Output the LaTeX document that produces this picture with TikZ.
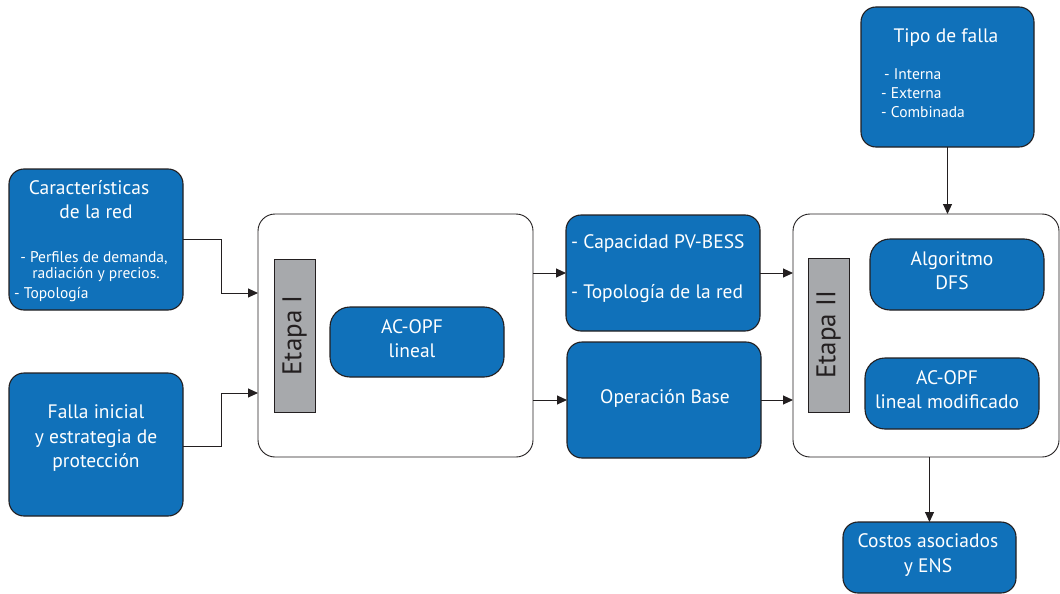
\documentclass[tikz,border=0pt]{standalone}
\usepackage{fontspec}
\setmainfont{PT Sans}
\usetikzlibrary{arrows.meta,calc}
\definecolor{boxblue}{HTML}{1071BA}
\definecolor{edge}{HTML}{231F20}
\definecolor{bargray}{HTML}{A7A9AC}
\tikzset{
  blk/.style={draw=edge, fill=boxblue, line width=1.1pt, rounded corners=15pt,
              inner sep=0pt, outer sep=0pt},
  stage/.style={draw=edge, fill=white, line width=0.9pt, rounded corners=17pt,
              inner sep=0pt, outer sep=0pt},
  bar/.style={draw=edge, fill=bargray, line width=0.9pt, inner sep=0pt, outer sep=0pt},
  big/.style={text=white, font=\fontsize{19.5}{23}\selectfont, anchor=mid, inner sep=0pt, yshift=-3pt},
  small/.style={text=white, font=\fontsize{15.5}{18}\selectfont, anchor=mid, inner sep=0pt, yshift=-3pt},
  lbl/.style={text=edge, font=\fontsize{27}{32}\selectfont, rotate=90, inner sep=0pt},
  arr/.style={draw=edge, line width=1pt, -{Triangle[length=10pt,width=9pt]}},
  ln/.style={draw=edge, line width=1pt},
}
\begin{document}
\begin{tikzpicture}[x=1pt,y=-1pt]
\useasboundingbox (0,0) rectangle (1060,594);
\begin{scope}
\clip (0,0) rectangle (1060,594);

% stage containers
\node[stage, minimum width=275pt, minimum height=243pt] (e1) at (395.5,335.5) {};
\node[stage, minimum width=266pt, minimum height=243pt] (e2) at (926,335.5) {};

% stage labels
\node[bar, minimum width=41pt, minimum height=153pt] (b1) at (294.5,335.5) {};
\node[lbl] (b1t) at (b1.center) {Etapa I};
\node[bar, minimum width=41pt, minimum height=154pt] (b2) at (828.5,335) {};
\node[lbl] (b2t) at (b2.center) {Etapa II};

% input blocks
\node[blk, minimum width=174pt, minimum height=141pt] (car) at (96,239.5) {};
\node[big] (car1) at (89,189) {Características};
\node[big] (car2) at (96,213) {de la red};
\node[small] (car3) at (94,257) {- Perfiles de demanda,};
\node[small] (car4) at (96,273) {radiación y precios.};
\node[small, anchor=mid west] (car5) at (14,293) {- Topología};

\node[blk, minimum width=174pt, minimum height=143pt] (fal) at (96,444.5) {};
\node[big] (fal1) at (96,413) {Falla inicial};
\node[big] (fal2) at (96,438) {y estrategia de};
\node[big] (fal3) at (96,462) {protección};

% stage I content
\node[blk, rounded corners=20pt, minimum width=174pt, minimum height=70pt] (opf) at (417,342) {};
\node[big] (opf1) at (412,328) {AC-OPF};
\node[big] (opf2) at (412,352) {lineal};

% stage I results
\node[blk, minimum width=194pt, minimum height=116pt] (cap) at (663,273) {};
\node[big, anchor=mid west] (cap1) at (571,243) {- Capacidad PV-BESS};
\node[big, anchor=mid west] (cap2) at (571,293) {- Topología de la red};

\node[blk, minimum width=194pt, minimum height=116pt] (op) at (664,400) {};
\node[big] (op1) at (665,398) {Operación Base};

% stage II content
\node[blk, rounded corners=20pt, minimum width=174pt, minimum height=71pt] (alg) at (957,274.5) {};
\node[big] (alg1) at (952,260) {Algoritmo};
\node[big] (alg2) at (952,284) {DFS};

\node[blk, rounded corners=20pt, minimum width=174pt, minimum height=71pt] (mod) at (952,393.5) {};
\node[big] (mod1) at (947,379) {AC-OPF};
\node[big] (mod2) at (947,403) {lineal modificado};

% fault type
\node[blk, minimum width=173pt, minimum height=140pt] (tipo) at (947.5,77) {};
\node[big] (tipo1) at (946,37) {Tipo de falla};
\node[small, anchor=mid west] (tipo2) at (884,74) {- Interna};
\node[small, anchor=mid west] (tipo3) at (881,93) {- Externa};
\node[small, anchor=mid west] (tipo4) at (881,112) {- Combinada};

% output
\node[blk, minimum width=173pt, minimum height=71pt] (cost) at (929.5,557.5) {};
\node[big] (cost1) at (928,542) {Costos asociados};
\node[big] (cost2) at (928,567) {y ENS};

% connectors
\coordinate (j1) at (221,293);
\coordinate (j2) at (221,393);
\draw[ln] (car.east) -| (j1);
\draw[arr] (j1) -- (j1 -| e1.west);
\draw[ln] (fal.east |- 0,446) -| (j2);
\draw[arr] (j2) -- (j2 -| e1.west);

\draw[arr] (cap.west -| e1.east) -- (cap.west);
\draw[arr] (op.west -| e1.east) -- (op.west);
\draw[arr] (cap.east) -- (cap.east -| e2.west);
\draw[arr] (op.east) -- (op.east -| e2.west);

\draw[arr] (tipo.south) -- (tipo.south |- e2.north);
\draw[arr] (cost.north |- e2.south) -- (cost.north);
\end{scope}
\end{tikzpicture}
\end{document}
